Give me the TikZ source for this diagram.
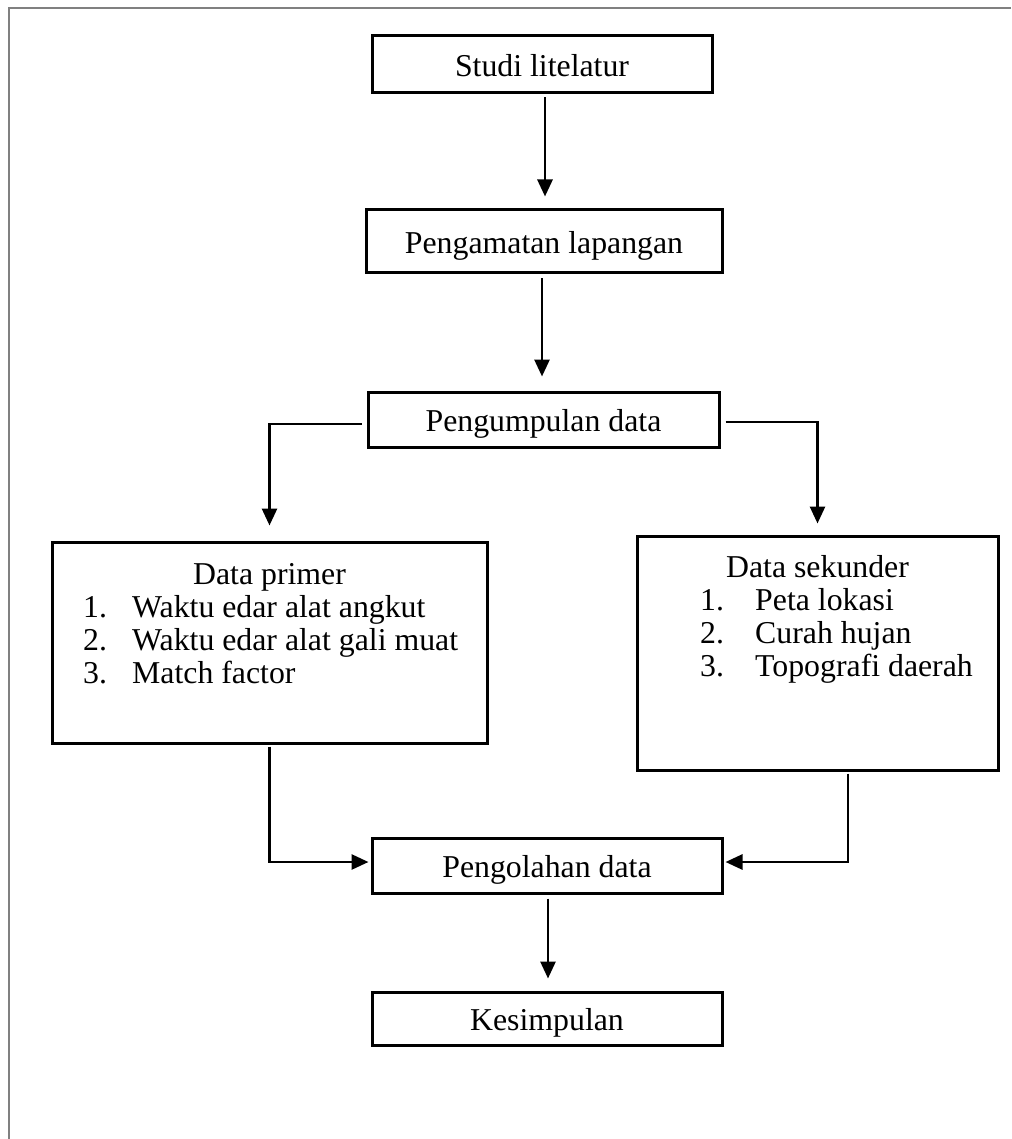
\documentclass[tikz,border=0pt]{standalone}
\usepackage{fontspec}
\setmainfont{Liberation Serif}
\usetikzlibrary{arrows.meta}
\begin{document}
\begin{tikzpicture}[x=1pt,y=-1pt,
  box/.style={draw, line width=3pt, inner sep=0pt, text height=28pt, text depth=3.7pt, font=\fontsize{31.8}{33}\selectfont},
  txt/.style={inner sep=0pt, anchor=mid west, font=\fontsize{31.8}{33}\selectfont},
  ttl/.style={inner sep=0pt, anchor=mid, font=\fontsize{31.8}{33}\selectfont},
  arr/.style={line width=2.8pt, -{Triangle[width=15pt,length=17pt]}}]
\useasboundingbox (0,0) rectangle (1011,1139);
\draw[gray, line width=2.6pt] (1011,8) -- (9,8) -- (9,1139);

\node[box, minimum width=340pt, minimum height=57pt] (sl) at (542,64.5) {Studi litelatur};
\node[box, minimum width=356pt, minimum height=63pt] (pl) at (544,241.5) {Pengamatan lapangan};
\node[box, minimum width=351pt, minimum height=55pt] (pu) at (543.5,419.5) {Pengumpulan data};
\node[box, minimum width=435pt, minimum height=201pt] (dp) at (269.5,642.5) {};
\node[box, minimum width=361pt, minimum height=234pt] (ds) at (817.5,653) {};
\node[box, minimum width=350pt, minimum height=55pt] (po) at (547,865.5) {Pengolahan data};
\node[box, minimum width=350pt, minimum height=53pt] (ks) at (547,1018.5) {Kesimpulan};

\node[ttl] (dpt) at (269.5,582) {Data primer};
\node[txt] (dpn1) at (83,615) {1.};
\node[txt] (dpi1) at (132,615) {Waktu edar alat angkut};
\node[txt] (dpn2) at (83,648) {2.};
\node[txt] (dpi2) at (132,648) {Waktu edar alat gali muat};
\node[txt] (dpn3) at (83,681) {3.};
\node[txt] (dpi3) at (132,681) {Match factor};

\node[ttl] (dst) at (817.5,575) {Data sekunder};
\node[txt] (dsn1) at (700,608) {1.};
\node[txt] (dsi1) at (755,608) {Peta lokasi};
\node[txt] (dsn2) at (700,641) {2.};
\node[txt] (dsi2) at (755,641) {Curah hujan};
\node[txt] (dsn3) at (700,674) {3.};
\node[txt] (dsi3) at (755,674) {Topografi daerah};

\draw[arr] ([xshift=3pt,yshift=-3pt]sl.south) -- ([xshift=3pt,yshift=12pt]sl.south |- pl.north);
\draw[arr] ([xshift=-2pt,yshift=-4pt]pl.south) -- ([xshift=-2pt,yshift=14pt]pl.south |- pu.north);
\draw[arr] ([xshift=-5pt,yshift=-4.5pt]pu.west) -| ([yshift=15pt]dp.north);
\draw[arr] ([xshift=5pt,yshift=-2.5pt]pu.east) -| ([yshift=11pt]ds.north);
\draw[arr] ([yshift=-2pt]dp.south) |- ([xshift=-2pt,yshift=3.5pt]po.west);
\draw[arr] ([xshift=30.5pt,yshift=-2pt]ds.south) |- ([xshift=2pt,yshift=3.5pt]po.east);
\draw[arr] ([xshift=1pt,yshift=-4pt]po.south) -- ([xshift=1pt,yshift=12pt]po.south |- ks.north);
\end{tikzpicture}
\end{document}
